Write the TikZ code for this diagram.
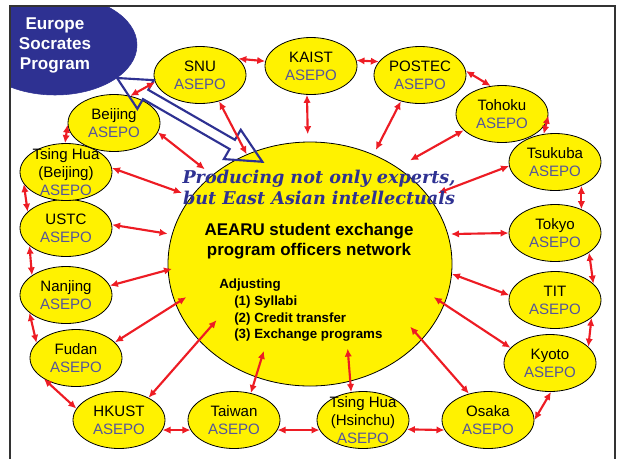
\documentclass[tikz,border=0pt]{standalone}
\usepackage{fontspec}
\setmainfont{Liberation Sans}
\newfontfamily\slogfont{DejaVu Serif}
\usepackage{xcolor}
\usepackage{tikz}
\usetikzlibrary{shapes.geometric, arrows.meta, calc}

\definecolor{uniyellow}{HTML}{FFF200}
\definecolor{linkred}{HTML}{ED1C24}
\definecolor{navy}{HTML}{2E3192}
\definecolor{asepogray}{HTML}{55559A}
\definecolor{framegray}{HTML}{333333}
\newcommand{\asepo}{\textcolor{asepogray}{ASEPO}}

\begin{document}
\begin{tikzpicture}[
        x=0.75pt, y=-0.75pt,
        uni/.style={ellipse, draw=black, line width=0.6pt, fill=uniyellow, minimum width=69pt, minimum height=42.75pt, inner sep=-8pt, align=center, font=\fontsize{11.3}{13.5}\selectfont},
        hubbox/.style={ellipse, draw=black, line width=0.6pt, fill=uniyellow, minimum width=213pt, minimum height=183pt, inner sep=0pt},
        europebox/.style={ellipse, draw=navy, fill=navy, minimum width=123pt, minimum height=75pt, inner sep=0pt, text=white, align=center, font=\fontsize{12.8}{15}\selectfont\bfseries},
        bigarrow/.style={draw=navy, line width=1.6pt, line join=miter},
        line/.style={draw=linkred, line width=1.6pt, {Latex[length=6pt,width=5.5pt]}-{Latex[length=6pt,width=5.5pt]}}
        ]
        \useasboundingbox (0,0) rectangle (620,458);

        % Europe corner
        \begin{scope}
            \clip (11,7) rectangle (614,460);
            \node [europebox] (europe) at (55,45) {Europe\\Socrates\\Program};
        \end{scope}
        \draw [framegray, line width=1.8pt] (10,460) -- (10,6) -- (615,6) -- (615,460);

        % Hub
        \node [hubbox] (hub) at (310,264) {};

        % Universities
        \node [uni] (snu) at (200,75) {SNU\\\asepo};
        \node [uni] (kaist) at (311,66) {KAIST\\\asepo};
        \node [uni] (postec) at (420,75) {POSTEC\\\asepo};
        \node [uni] (tohoku) at (502,114) {Tohoku\\\asepo};
        \node [uni] (tsukuba) at (555,162) {Tsukuba\\\asepo};
        \node [uni] (tokyo) at (555,233) {Tokyo\\\asepo};
        \node [uni] (tit) at (555,300) {TIT\\\asepo};
        \node [uni] (kyoto) at (550,363) {Kyoto\\\asepo};
        \node [uni] (osaka) at (488,420) {Osaka\\\asepo};
        \node [uni] (hsinchu) at (363,420) {Tsing Hua\\(Hsinchu)\\\asepo};
        \node [uni] (taiwan) at (234,420) {Taiwan\\\asepo};
        \node [uni] (hkust) at (119,420) {HKUST\\\asepo};
        \node [uni] (fudan) at (76,358) {Fudan\\\asepo};
        \node [uni] (nanjing) at (66,295) {Nanjing\\\asepo};
        \node [uni] (ustc) at (66,228) {USTC\\\asepo};
        \node [uni] (thbj) at (66,172) {Tsing Hua\\(Beijing)\\\asepo};
        \node [uni] (beijing) at (114,123) {Beijing\\\asepo};

        % Hollow arrow Europe <-> hub
        \coordinate (eA) at (europe.-28);
        \coordinate (eB) at ($(hub)!0.9!(hub.115)$);
        \coordinate (hA) at ($(eA)!24.75pt!(eB)$);
        \coordinate (hB) at ($(eB)!26pt!(eA)$);
        \draw [bigarrow] (eA) -- ($(hA)!12.4pt!90:(eB)$) -- ($(hA)!4pt!90:(eB)$)
            -- ($(hB)!4pt!-90:(eA)$) -- ($(hB)!12.7pt!-90:(eA)$) -- (eB)
            -- ($(hB)!12.7pt!90:(eA)$) -- ($(hB)!4pt!90:(eA)$)
            -- ($(hA)!4pt!-90:(eB)$) -- ($(hA)!12.4pt!-90:(eB)$) -- cycle;

        % Ring
        \path [line] (snu.23) -- (kaist.174);
        \path [line] (kaist.7) -- (postec.162);
        \path [line] (postec.5) -- (tohoku.112);
        \path [line] (tohoku.-2) -- (tsukuba.112);
        \path [line] (tsukuba.-42) -- (tokyo.42);
        \path [line] (tokyo.-30) -- (tit.23);
        \path [line] (tit.-26) -- (kyoto.23);
        \path [line] (kyoto.-88) -- (osaka.0);
        \path [line] (osaka.-167) -- (hsinchu.-12);
        \path [line] (hsinchu.-167) -- (taiwan.-13);
        \path [line] (taiwan.-167) -- (hkust.-13);
        \path [line] (hkust.165) -- (fudan.-147);
        \path [line] (fudan.159) -- (nanjing.-154);
        \path [line] (nanjing.150) -- (ustc.-154);
        \path [line] (ustc.157) -- (thbj.-164);
        \path [line] (thbj.92) -- (beijing.-178);
        \path [line] (beijing.59) -- (snu.-171);

        % Spokes
        \path [line] (snu.-54) -- ($(hub)!1.00!(hub.120)$);
        \path [line] (kaist.-98) -- ($(hub)!1.06!(hub.91)$);
        \path [line] (postec.-126) -- ($(hub)!1.04!(hub.60)$);
        \path [line] (tohoku.-157) -- ($(hub)!1.10!(hub.46)$);
        \path [line] (tsukuba.-175) -- ($(hub)!1.07!(hub.29)$);
        \path [line] (tokyo.180) -- ($(hub)!1.02!(hub.12)$);
        \path [line] (tit.174) -- ($(hub)!1.00!(hub.-4)$);
        \path [line] (kyoto.159) -- ($(hub)!0.91!(hub.-15)$);
        \path [line] (osaka.126) -- ($(hub)!0.87!(hub.-32)$);
        \path [line] (hsinchu.113) -- ($(hub)!0.74!(hub.-66)$);
        \path [line] (taiwan.58) -- ($(hub)!0.78!(hub.-118)$);
        \path [line] (hkust.37) -- ($(hub)!0.80!(hub.-149)$);
        \path [line] (fudan.22) -- ($(hub)!0.91!(hub.-165)$);
        \path [line] (nanjing.12) -- ($(hub)!0.97!(hub.-178)$);
        \path [line] (ustc.4) -- ($(hub)!1.03!(hub.168)$);
        \path [line] (thbj.5) -- ($(hub)!1.07!(hub.151)$);
        \path [line] (beijing.-12) -- ($(hub)!1.07!(hub.138)$);

        % Hub texts
        \node [text=navy, align=center, font=\slogfont\fontsize{13.2}{15.75}\selectfont\bfseries\itshape] (slogan) at (319,187) {Producing not only experts,\\but East Asian intellectuals};
        \node [align=center, font=\fontsize{12.7}{15}\selectfont\bfseries] (title) at (309,241) {AEARU student exchange\\program officers network};
        \node [align=left, anchor=north west, inner sep=0pt, font=\fontsize{10}{12.4}\selectfont\bfseries] (adjust) at (219,279) {Adjusting\\\hspace*{11.25pt}(1) Syllabi\\\hspace*{11.25pt}(2) Credit transfer\\\hspace*{11.25pt}(3) Exchange programs};
    \end{tikzpicture}
\end{document}
